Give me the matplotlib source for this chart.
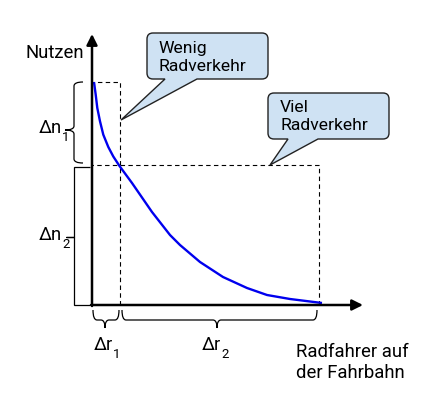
import matplotlib.pyplot as plt
from matplotlib.path import Path
from matplotlib.patches import PathPatch

plt.rcParams['font.family'] = ['Roboto', 'DejaVu Sans']

# Nutzen-Kurve (Radfahrer -> Nutzen)
curve_x = [2, 3.7, 5.3, 8, 11.3, 16.3, 21.3, 27.5, 40, 60, 78, 88, 108, 131, 155, 175, 198, 230]
curve_y = [223, 210.3, 197, 183.7, 170.3, 158, 148.5, 139, 122, 93, 70, 60, 43, 28, 17, 10, 6, 2]

# Markierungen
r_marks = [28, 227]     # r1, r2
n_marks = [223, 140]    # n1, n2

y_label = "Nutzen"
x_label = "Radfahrer auf\nder Fahrbahn"
callout_texts = ["Wenig\nRadverkehr", "Viel\nRadverkehr"]


def brace_path(a, b, level, h, d, tip=None, vertical=False, r=4, square=False):
    # Klammer von a bis b auf Hoehe 'level'; Enden um h geknickt, Spitze nach level-d
    m = (a + b) / 2 if tip is None else tip
    if square:
        pts = [(a, level + h), (a, level), (m, level), (m, level - d),
               (m, level), (b, level), (b, level + h)]
        codes = [Path.MOVETO] + [Path.LINETO] * 6
    else:
        pts = [(a, level + h), (a, level), (a + r, level),
               (m - r, level), (m, level), (m, level - d),
               (m, level), (m + r, level),
               (b - r, level), (b, level), (b, level + h)]
        codes = [Path.MOVETO, Path.CURVE3, Path.CURVE3,
                 Path.LINETO, Path.CURVE3, Path.CURVE3,
                 Path.CURVE3, Path.CURVE3,
                 Path.LINETO, Path.CURVE3, Path.CURVE3]
    if vertical:
        pts = [(p[1], p[0]) for p in pts]
    return Path(pts, codes)


def callout_path(x0, y0, x1, y1, b1, b2, tip, r=6):
    pts = [(x0 + r, y1), (x1 - r, y1), (x1, y1), (x1, y1 - r),
           (x1, y0 + r), (x1, y0), (x1 - r, y0),
           (b2, y0), tip, (b1, y0),
           (x0 + r, y0), (x0, y0), (x0, y0 + r),
           (x0, y1 - r), (x0, y1), (x0 + r, y1), (x0 + r, y1)]
    codes = [Path.MOVETO, Path.LINETO, Path.CURVE3, Path.CURVE3,
             Path.LINETO, Path.CURVE3, Path.CURVE3,
             Path.LINETO, Path.LINETO, Path.LINETO,
             Path.LINETO, Path.CURVE3, Path.CURVE3,
             Path.LINETO, Path.CURVE3, Path.CURVE3, Path.CLOSEPOLY]
    return Path(pts, codes)


def delta_label(ax, x, y, main, sub, fs=13.3):
    # "Δn" mit tiefgestellter Ziffer, x = rechter Rand von main, y = Grundlinie
    ax.text(x, y, main, fontsize=fs, ha='right', va='baseline')
    ax.text(x, y - 8, sub, fontsize=fs * 0.72, ha='left', va='baseline')


fig = plt.figure(figsize=(4.43, 4.05), dpi=100)
ax = fig.add_axes([0, 0, 1, 1])
ax.set_xlim(-92, 351)
ax.set_ylim(-100, 305)
ax.axis('off')

r1, r2 = r_marks
n1, n2 = n_marks

# gestrichelte Hilfslinien
dash = dict(color='black', lw=0.8, ls=(0, (4, 3)))
ax.plot([r1, r1, 0], [0, n1, n1], **dash)
ax.plot([r2, r2, 0], [0, n2, n2], **dash)

# Kurve
ax.plot(curve_x, curve_y, color='#0000ee', lw=1.7, solid_capstyle='butt',
        solid_joinstyle='round', zorder=3)

# Achsen mit Pfeilen
arr = dict(arrowstyle='-|>', lw=1.8, color='black', mutation_scale=16,
           shrinkA=0, shrinkB=0)
ax.annotate('', xy=(0, 271), xytext=(0, -1), arrowprops=arr)
ax.annotate('', xy=(271, 0), xytext=(-1, 0), arrowprops=arr)

# Klammern
bk = dict(fc='none', ec='black', lw=0.9)
ax.add_patch(PathPatch(brace_path(n2 + 2, n1, -18, 9, 9, tip=175, vertical=True), **bk))
ax.add_patch(PathPatch(brace_path(0, n2 - 2, -18, 16, 8, tip=68, vertical=True, square=True), **bk))
ax.add_patch(PathPatch(brace_path(1, r1 - 1, -15, 10, 8, tip=13), **bk))
ax.add_patch(PathPatch(brace_path(r1 + 2, r2 - 2, -15, 10, 8, tip=125), **bk))

# Beschriftungen
fs = 13.3
ax.text(-37, 252, y_label, fontsize=fs, ha='center', va='center')
delta_label(ax, -30, 172, 'Δn', '1')
delta_label(ax, -30, 65, 'Δn', '2')
delta_label(ax, 21, -45, 'Δr', '1')
delta_label(ax, 129, -45, 'Δr', '2')
ax.text(204, -57.5, x_label, fontsize=fs, ha='left', va='center', linespacing=1.2)

# Sprechblasen
cb = dict(fc='#cfe2f3', ec='#222222', lw=1.0, zorder=4)
ax.add_patch(PathPatch(callout_path(55, 226, 176, 272, 73, 105, (r1 + 1, 185)), **cb))
ax.add_patch(PathPatch(callout_path(176, 166, 297, 212, 196, 226, (178, n2)), **cb))
ax.text(66, 247.5, callout_texts[0], fontsize=12.6, ha='left', va='center',
        linespacing=1.2, zorder=5)
ax.text(188, 188.5, callout_texts[1], fontsize=12.6, ha='left', va='center',
        linespacing=1.2, zorder=5)

fig.savefig('out.png', dpi=100)
